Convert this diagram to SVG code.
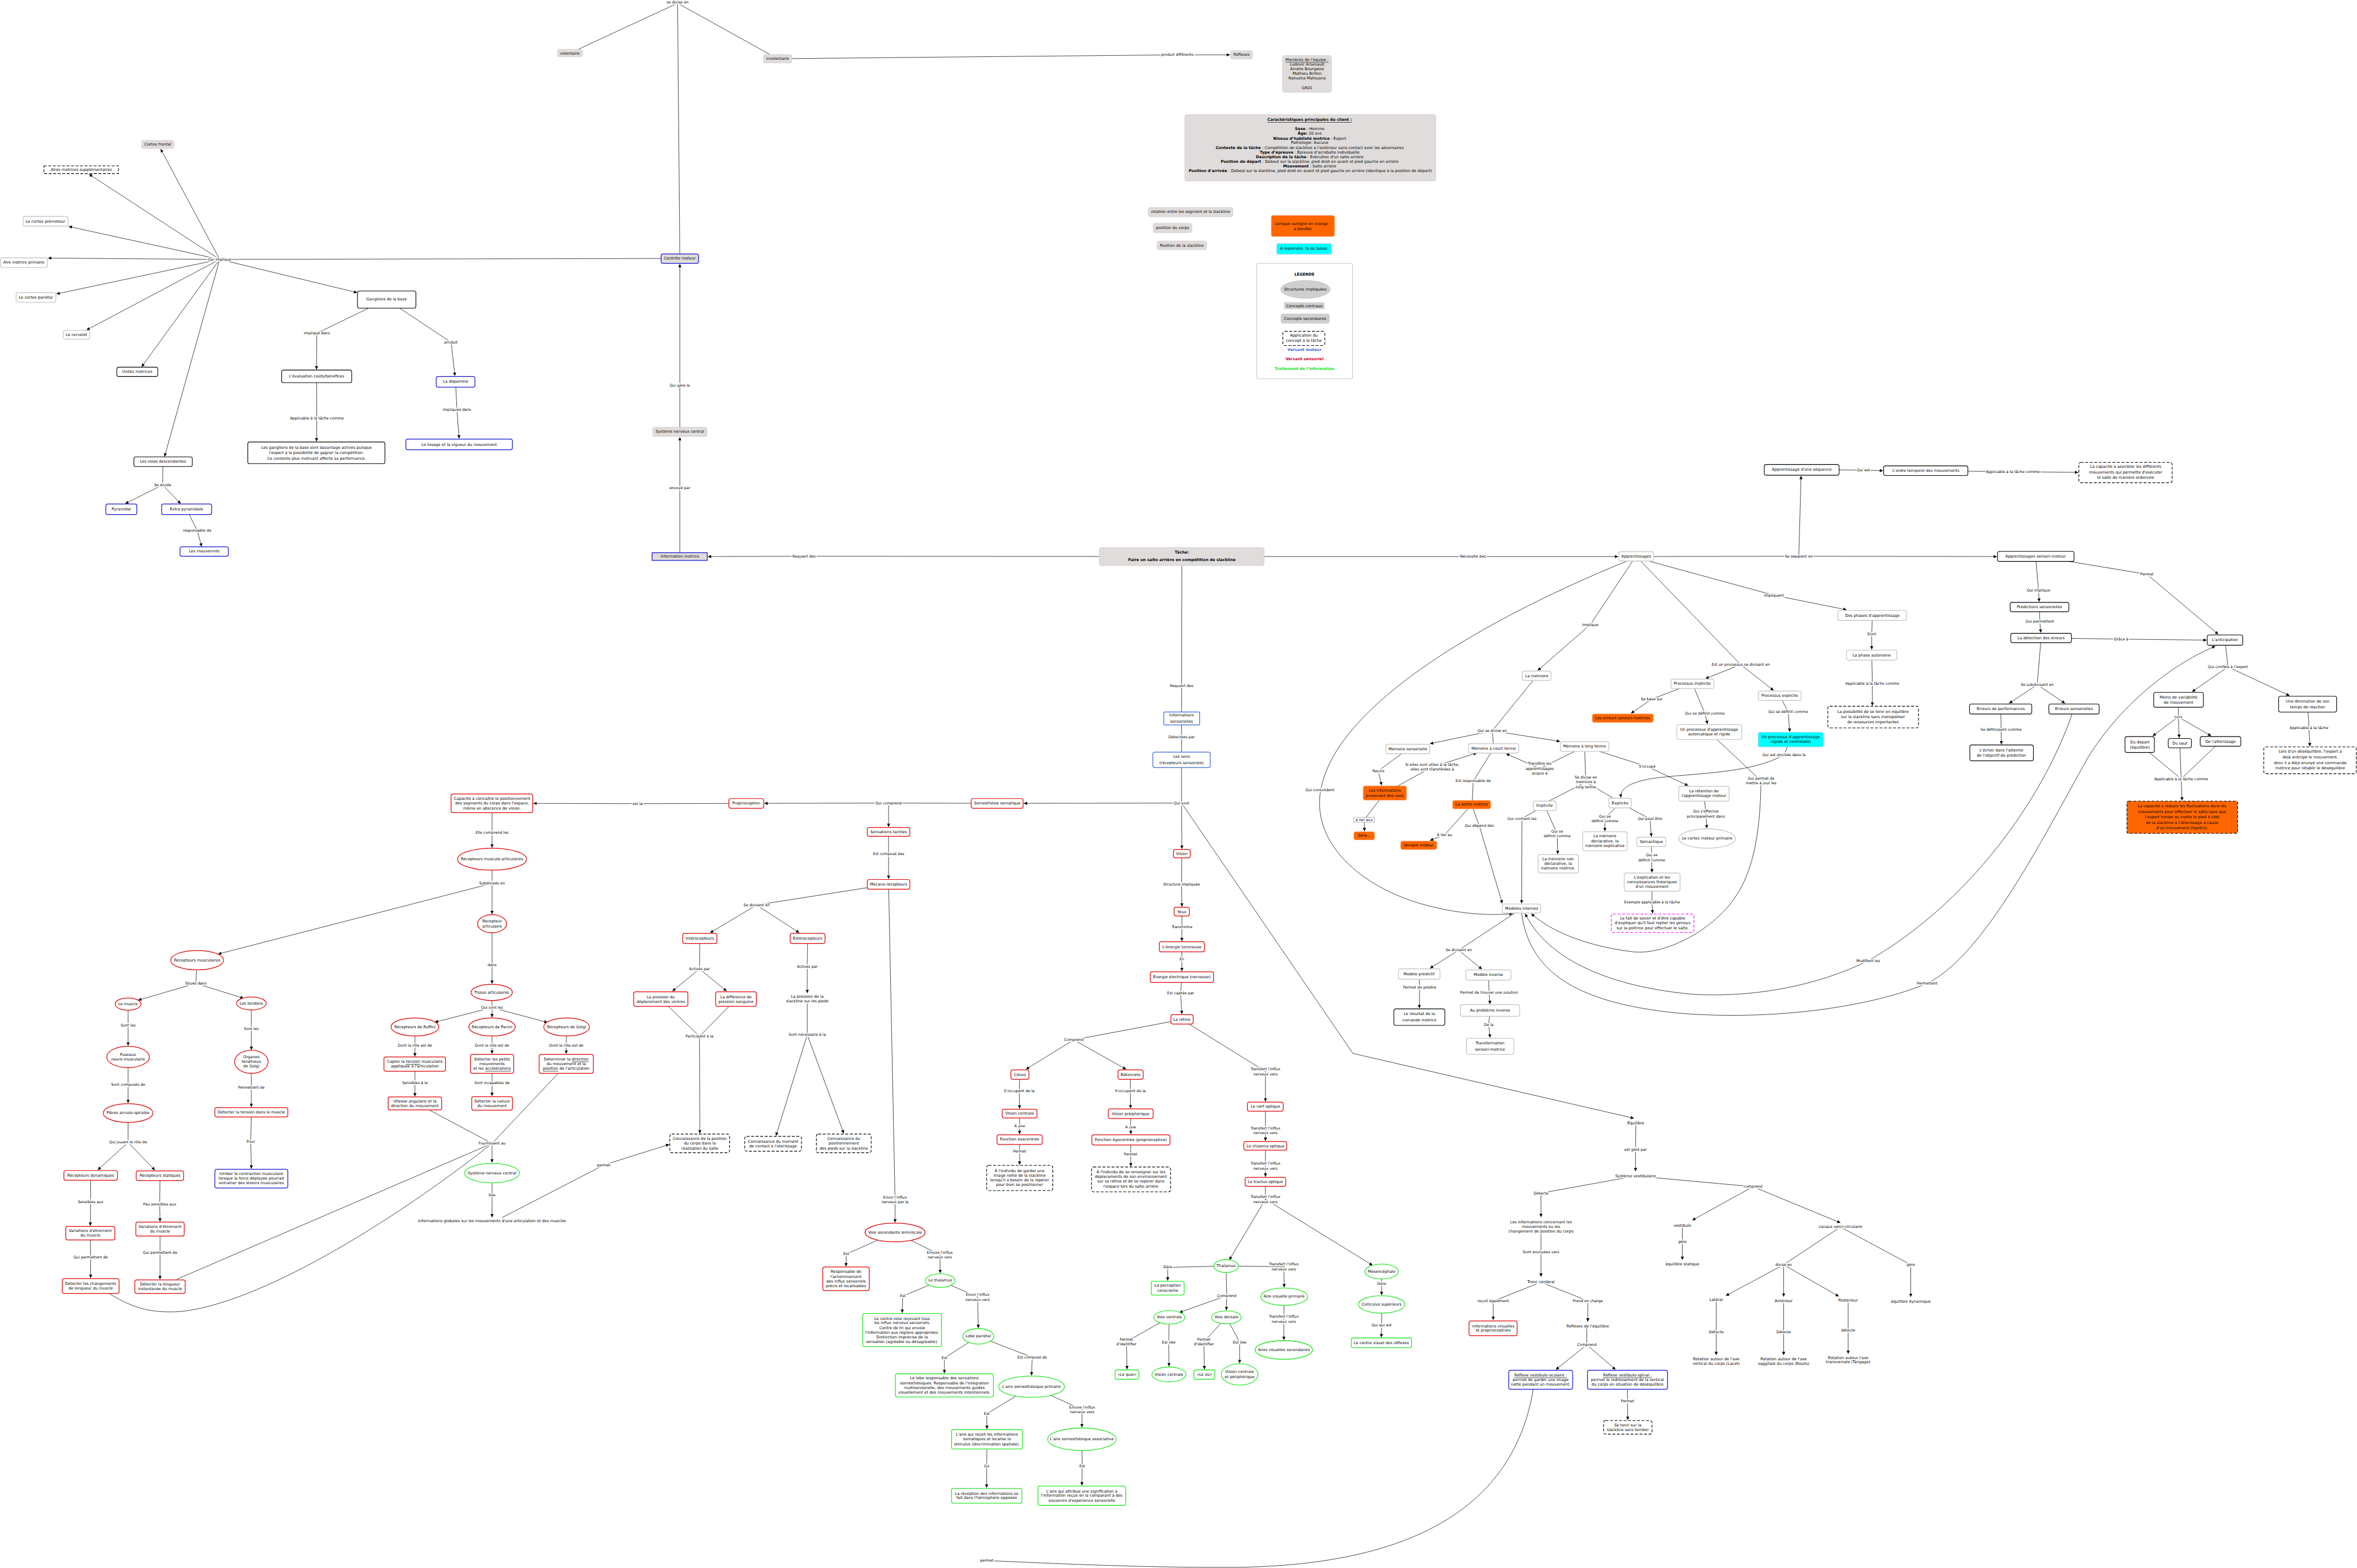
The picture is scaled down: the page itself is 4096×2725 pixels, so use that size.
<svg xmlns="http://www.w3.org/2000/svg" width="4096" height="2725" viewBox="0 0 4096 2725">
<defs>
<marker id="ah" viewBox="0 0 10 10" refX="10" refY="5" markerWidth="12" markerHeight="10" markerUnits="userSpaceOnUse" orient="auto"><path d="M0,0 L10,5 L0,10 z" fill="#000"/></marker>
<style>
text{font-family:"DejaVu Sans",Verdana,"Liberation Sans",sans-serif;text-anchor:middle;dominant-baseline:central;fill:#000;font-size:12px}
tspan{dominant-baseline:central}
.l{font-size:11.5px;stroke:#fff;stroke-width:6px;paint-order:stroke;stroke-linejoin:round}
.p{stroke:#fff;stroke-width:6px;paint-order:stroke;stroke-linejoin:round}
.g{fill:#dfdcdb;stroke:#d3d0cf;stroke-width:1.5}
.w{fill:#fff;stroke:#c9c9c9;stroke-width:2.5}
.k{fill:#fff;stroke:#000;stroke-width:2}
.b{fill:#fff;stroke:#1212d0;stroke-width:2.2}
.bl{fill:#fff;stroke:#3d66dd;stroke-width:2.2}
.r{fill:#fff;stroke:#e00000;stroke-width:2.2}
.v{fill:#fff;stroke:#2ee82e;stroke-width:2.4}
.d{fill:#fff;stroke:#000;stroke-width:2;stroke-dasharray:9 5}
.o{fill:#ff6600;stroke:#ff9966;stroke-width:1.5}
.od{fill:#ff6600;stroke:#000;stroke-width:2;stroke-dasharray:9 5}
.c{fill:#00ffff;stroke:#9ad7e6;stroke-width:2}
.m{fill:#fff;stroke:#ff00ff;stroke-width:2;stroke-dasharray:9 5}
.e{fill:none;stroke:#000;stroke-width:1.3}
.a{marker-end:url(#ah)}
.bd{font-weight:bold}
</style>
</defs>
<rect x="0" y="0" width="4096" height="2725" fill="#fff"/>
<g transform="scale(0.56071)">
<g id="connectors">
<path class="e" d="M2107,801 L2100,10 M2100,10 L1766,165 M2100,10 L2410,182 M2410,182 L3649,170"/>
<path class="e a" d="M3649,170 L3812,170"/>
<path class="e" d="M2107,1725 L2107,1513"/><path class="e a" d="M2107,1513 L2107,1355"/>
<path class="e" d="M2107,1338 L2107,1195"/><path class="e a" d="M2107,1195 L2107,818"/>
<path class="e" d="M3663,1725 L2492,1724"/><path class="e a" d="M2492,1724 L2194,1725"/>
<path class="e" d="M2107,801 L681,804"/>
<path class="e a" d="M681,804 L498,462"/>
<path class="e a" d="M681,804 L276,540"/>
<path class="e a" d="M681,804 L213,702"/>
<path class="e a" d="M681,804 L149,800"/>
<path class="e a" d="M681,804 L175,911"/>
<path class="e a" d="M681,804 L268,1023"/>
<path class="e a" d="M681,804 L439,1137"/>
<path class="e a" d="M681,804 L510,1415"/>
<path class="e a" d="M681,804 L1107,907"/>
<path class="e" d="M1198,928 L982,1033"/><path class="e a" d="M982,1033 L981,1145"/>
<path class="e" d="M1198,928 L1398,1061"/><path class="e a" d="M1398,1061 L1410,1165"/>
<path class="e" d="M981,1167 L982,1297"/><path class="e a" d="M982,1297 L981,1368"/>
<path class="e" d="M1412,1183 L1416,1269"/><path class="e a" d="M1416,1269 L1423,1359"/>
<path class="e" d="M505,1431 L504,1503"/><path class="e a" d="M504,1503 L388,1561"/><path class="e a" d="M504,1503 L560,1561"/>
<path class="e" d="M578,1578 L611,1644"/><path class="e a" d="M611,1644 L625,1694"/>
<path class="e" d="M3663,1725 L3662,2207 M3662,2227 L3662,2331 M3662,2355 L3662,2489"/>
<path class="e a" d="M3662,2489 L3173,2490"/>
<path class="e a" d="M3662,2489 L3663,2631"/>
<path class="e a" d="M3662,2489 L4193,3265 L5064,3466"/>
<path class="e" d="M3091,2490 L2754,2489"/><path class="e a" d="M2754,2489 L2369,2490"/><path class="e a" d="M2754,2489 L2754,2563"/>
<path class="e" d="M2313,2490 L1976,2491"/><path class="e a" d="M1976,2491 L1653,2490"/>
<path class="e" d="M1525,2490 L1525,2581"/><path class="e a" d="M1525,2581 L1525,2627"/>
<path class="e" d="M1525,2663 L1525,2738"/><path class="e a" d="M1525,2738 L676,2957"/><path class="e a" d="M1525,2738 L1525,2833"/>
<path class="e" d="M2754,2579 L2754,2646"/><path class="e a" d="M2754,2646 L2754,2724"/>
<path class="e" d="M2754,2741 L2345,2805"/><path class="e a" d="M2345,2805 L2201,2891"/><path class="e a" d="M2345,2805 L2477,2891"/>
<path class="e" d="M2754,2741 L2774,3718"/><path class="e a" d="M2774,3718 L2774,3789"/>
<path class="e" d="M2169,2909 L2168,3003"/><path class="e a" d="M2168,3003 L2084,3072"/><path class="e a" d="M2168,3003 L2252,3072"/>
<path class="e" d="M2048,3097 L2168,3212 M2281,3097 L2168,3212"/><path class="e a" d="M2168,3212 L2169,3513"/>
<path class="e" d="M2503,2909 L2502,2996"/><path class="e a" d="M2502,2996 L2502,3078"/>
<path class="e" d="M2502,3100 L2502,3207"/><path class="e a" d="M2502,3207 L2405,3520"/><path class="e a" d="M2502,3207 L2615,3513"/>
<path class="e" d="M3663,2646 L3662,2741"/><path class="e a" d="M3662,2741 L3663,2810"/>
<path class="e" d="M3663,2826 L3663,2874"/><path class="e a" d="M3663,2874 L3663,2917"/>
<path class="e" d="M3663,2935 L3663,2973"/><path class="e a" d="M3663,2973 L3663,3010"/>
<path class="e" d="M3663,3029 L3659,3079"/><path class="e a" d="M3659,3079 L3663,3143"/>
<path class="e" d="M3663,3160 L3328,3223"/><path class="e a" d="M3328,3223 L3180,3314"/><path class="e a" d="M3328,3223 L3490,3314"/>
<path class="e" d="M3663,3160 L3922,3321"/><path class="e a" d="M3922,3321 L3922,3414"/>
<path class="e" d="M3161,3331 L3159,3382"/><path class="e a" d="M3159,3382 L3160,3436"/>
<path class="e" d="M3504,3331 L3503,3382"/><path class="e a" d="M3503,3382 L3504,3435"/>
<path class="e" d="M3160,3451 L3160,3490"/><path class="e a" d="M3160,3490 L3160,3515"/>
<path class="e" d="M3504,3452 L3504,3493"/><path class="e a" d="M3504,3493 L3505,3515"/>
<path class="e" d="M3160,3532 L3160,3569"/><path class="e a" d="M3160,3569 L3160,3610"/>
<path class="e" d="M3505,3533 L3504,3578"/><path class="e a" d="M3504,3578 L3505,3615"/>
<path class="e" d="M3922,3430 L3922,3504"/><path class="e a" d="M3922,3504 L3922,3536"/>
<path class="e" d="M3922,3552 L3922,3614"/><path class="e a" d="M3922,3614 L3922,3647"/>
<path class="e" d="M3922,3663 L3922,3717"/><path class="e a" d="M3922,3717 L3810,3905"/><path class="e a" d="M3922,3717 L4254,3922"/>
<path class="e" d="M3800,3924 L3979,3926"/><path class="e a" d="M3979,3926 L3980,3990"/>
<path class="e" d="M3800,3924 L3619,3928"/><path class="e a" d="M3619,3928 L3619,3969"/>
<path class="e" d="M3800,3924 L3802,4016"/><path class="e a" d="M3802,4016 L3801,4061"/><path class="e a" d="M3802,4016 L3655,4068"/>
<path class="e" d="M3624,4083 L3491,4159"/><path class="e a" d="M3491,4159 L3493,4244"/>
<path class="e" d="M3624,4083 L3622,4160"/><path class="e a" d="M3622,4160 L3623,4235"/>
<path class="e" d="M3801,4083 L3731,4159"/><path class="e a" d="M3731,4159 L3733,4244"/>
<path class="e" d="M3801,4083 L3842,4160"/><path class="e a" d="M3842,4160 L3842,4225"/>
<path class="e" d="M3980,4019 L3979,4088"/><path class="e a" d="M3979,4088 L3979,4153"/>
<path class="e" d="M4282,3941 L4282,3979"/><path class="e a" d="M4282,3979 L4282,4014"/>
<path class="e" d="M4282,4043 L4282,4108"/><path class="e a" d="M4282,4108 L4281,4145"/>
<path class="e" d="M2774,3820 L2623,3887"/><path class="e a" d="M2623,3887 L2622,3925"/>
<path class="e" d="M2774,3820 L2913,3889"/><path class="e a" d="M2913,3889 L2914,3946"/>
<path class="e" d="M2914,3969 L2798,4017"/><path class="e a" d="M2798,4017 L2796,4069"/>
<path class="e" d="M2914,3969 L3030,4020"/><path class="e a" d="M3030,4020 L3032,4116"/>
<path class="e" d="M3032,4142 L2927,4209"/><path class="e a" d="M2927,4209 L2927,4256"/>
<path class="e" d="M3032,4142 L3199,4207"/><path class="e a" d="M3199,4207 L3197,4263"/>
<path class="e" d="M3197,4298 L3058,4382"/><path class="e a" d="M3058,4382 L3059,4429"/>
<path class="e" d="M3197,4298 L3354,4369"/><path class="e a" d="M3354,4369 L3353,4424"/>
<path class="e" d="M3059,4461 L3058,4545"/><path class="e a" d="M3058,4545 L3058,4611"/>
<path class="e" d="M3353,4461 L3354,4544"/><path class="e a" d="M3354,4544 L3353,4604"/>
<path class="e" d="M4752,4306 C4700,4620 4450,4858 3800,4858 C3500,4858 3250,4845 3060,4837"/>
<path class="e" d="M5070,3482 L5069,3563"/><path class="e a" d="M5069,3563 L5069,3630"/>
<path class="e" d="M5069,3645 L4776,3698"/><path class="e a" d="M4776,3698 L4776,3772"/>
<path class="e" d="M4776,3802 L4776,3881"/><path class="e a" d="M4776,3881 L4776,3957"/>
<path class="e" d="M4776,3974 L4628,4033"/><path class="e a" d="M4628,4033 L4628,4091"/>
<path class="e" d="M4776,3974 L4921,4032"/><path class="e a" d="M4921,4032 L4921,4096"/>
<path class="e" d="M4918,4110 L4918,4168"/><path class="e a" d="M4918,4168 L4822,4245"/><path class="e a" d="M4918,4168 L5007,4245"/>
<path class="e" d="M5044,4277 L5044,4343"/><path class="e a" d="M5044,4343 L5045,4401"/>
<path class="e" d="M5069,3645 L5433,3678"/><path class="e a" d="M5433,3678 L5245,3782"/><path class="e a" d="M5433,3678 L5704,3790"/>
<path class="e" d="M5214,3799 L5214,3849"/><path class="e a" d="M5214,3849 L5214,3905"/>
<path class="e" d="M5704,3803 L5528,3920"/><path class="e a" d="M5528,3920 L5349,4016"/><path class="e a" d="M5528,3920 L5528,4019"/><path class="e a" d="M5528,3920 L5699,4018"/>
<path class="e" d="M5704,3803 L5922,3920"/><path class="e a" d="M5922,3920 L5922,4020"/>
<path class="e" d="M5319,4029 L5319,4128"/><path class="e a" d="M5319,4128 L5319,4200"/>
<path class="e" d="M5528,4033 L5528,4128"/><path class="e a" d="M5528,4128 L5528,4200"/>
<path class="e" d="M5728,4031 L5728,4124"/><path class="e a" d="M5728,4124 L5728,4196"/>
<path class="e" d="M1525,2863 L1525,2991"/><path class="e a" d="M1525,2991 L1525,3049"/>
<path class="e" d="M611,2976 L607,3048"/><path class="e a" d="M607,3048 L428,3100"/><path class="e a" d="M607,3048 L755,3094"/>
<path class="e" d="M397,3112 L397,3178"/><path class="e a" d="M397,3178 L397,3241"/>
<path class="e" d="M779,3110 L779,3189"/><path class="e a" d="M779,3189 L779,3254"/>
<path class="e" d="M397,3276 L397,3362"/><path class="e a" d="M397,3362 L397,3419"/>
<path class="e" d="M779,3291 L779,3371"/><path class="e a" d="M779,3371 L779,3431"/>
<path class="e" d="M397,3450 L397,3541"/><path class="e a" d="M397,3541 L303,3626"/><path class="e a" d="M397,3541 L480,3627"/>
<path class="e" d="M779,3448 L777,3538"/><path class="e a" d="M777,3538 L779,3622"/>
<path class="e" d="M281,3643 L281,3726"/><path class="e a" d="M281,3726 L280,3799"/>
<path class="e" d="M496,3644 L495,3733"/><path class="e a" d="M495,3733 L496,3786"/>
<path class="e" d="M280,3822 L281,3896"/><path class="e a" d="M281,3896 L281,3961"/>
<path class="e" d="M496,3810 L496,3883"/><path class="e a" d="M496,3883 L496,3965"/>
<path class="e" d="M1524,3076 L1525,3123"/><path class="e a" d="M1525,3123 L1348,3168"/><path class="e a" d="M1525,3123 L1525,3153"/><path class="e a" d="M1525,3123 L1697,3169"/>
<path class="e" d="M1286,3183 L1286,3241"/><path class="e a" d="M1286,3241 L1286,3274"/>
<path class="e" d="M1525,3183 L1525,3241"/><path class="e a" d="M1525,3241 L1525,3266"/>
<path class="e" d="M1756,3183 L1755,3241"/><path class="e a" d="M1755,3241 L1755,3266"/>
<path class="e" d="M1286,3298 L1286,3357"/><path class="e a" d="M1286,3357 L1286,3398"/>
<path class="e" d="M1525,3298 L1525,3356"/><path class="e a" d="M1525,3356 L1525,3397"/>
<path class="e" d="M1330,3440 L1525,3544 M1730,3327 L1525,3544 M548,3965 L1525,3544"/>
<path class="e" d="M338,4009 C420,4060 480,4070 560,4065 C800,4040 1200,3800 1525,3544"/>
<path class="e a" d="M1525,3544 L1525,3603"/>
<path class="e" d="M1525,3636 L1525,3705"/><path class="e a" d="M1525,3705 L1525,3773"/>
<path class="e" d="M1556,3774 L1871,3611"/><path class="e a" d="M1871,3611 L2074,3547"/>
<path class="e" d="M3918,1725 L4565,1725"/><path class="e a" d="M4565,1725 L5015,1725"/>
<path class="e" d="M5071,1725 L5575,1724"/><path class="e a" d="M5575,1724 L6189,1725"/><path class="e a" d="M5575,1724 L5582,1475"/>
<path class="e" d="M5584,1456 L5775,1457"/><path class="e a" d="M5775,1457 L5836,1459"/>
<path class="e" d="M5969,1459 L6238,1462"/><path class="e a" d="M6238,1462 L6441,1464"/>
<path class="e" d="M5060,1739 L4929,1936"/><path class="e a" d="M4929,1936 L4766,2078"/>
<path class="e" d="M5085,1739 L5395,2060"/><path class="e a" d="M5395,2060 L5286,2103"/><path class="e a" d="M5395,2060 L5497,2140"/>
<path class="e" d="M5110,1739 L5498,1845"/><path class="e a" d="M5498,1845 L5723,1890"/>
<path class="e" d="M5803,1908 L5801,1965"/><path class="e a" d="M5801,1965 L5801,2013"/>
<path class="e" d="M5801,2031 L5803,2119"/><path class="e a" d="M5803,2119 L5803,2187"/>
<path class="e a" d="M5040,1740 C4600,1920 4150,2180 4095,2440 C4060,2600 4200,2740 4400,2800 C4520,2835 4620,2838 4688,2832"/>
<path class="e" d="M5245,2119 L5119,2167"/><path class="e a" d="M5119,2167 L5055,2211"/>
<path class="e" d="M5245,2119 L5284,2211"/><path class="e a" d="M5284,2211 L5292,2244"/>
<path class="e" d="M5516,2157 L5542,2206"/><path class="e a" d="M5542,2206 L5547,2268"/>
<path class="e" d="M5550,2292 L5529,2340"/><path class="e a" d="M5529,2340 C5420,2400 5250,2395 5120,2413 C5050,2425 5020,2445 5024,2472"/>
<path class="e" d="M5297,2269 L5458,2420"/><path class="e a" d="M5458,2420 C5455,2600 5430,2720 5360,2805 C5280,2900 5150,2960 5060,2950 C4900,2930 4800,2880 4746,2832"/>
<path class="e" d="M4763,2095 L4625,2265 M4625,2265 L4628,2305"/><path class="e a" d="M4625,2265 L4432,2305"/><path class="e a" d="M4625,2265 L4835,2298"/>
<path class="e" d="M4363,2322 L4272,2389"/><path class="e a" d="M4272,2389 L4282,2434"/>
<path class="e" d="M4292,2458 L4439,2377"/><path class="e a" d="M4439,2377 L4577,2334"/>
<path class="e" d="M4911,2314 L4772,2382"/><path class="e a" d="M4772,2382 L4668,2336"/>
<path class="e" d="M4629,2320 L4566,2421 M4566,2421 L4563,2481"/>
<path class="e" d="M4292,2458 L4228,2541"/><path class="e a" d="M4228,2541 L4229,2576"/>
<path class="e" d="M4561,2494 L4477,2588"/><path class="e a" d="M4477,2588 L4432,2605"/>
<path class="e" d="M4561,2494 L4585,2560"/><path class="e a" d="M4585,2560 L4656,2800"/>
<path class="e" d="M4911,2314 L4915,2424 M4915,2424 L4800,2483 M4915,2424 L5000,2474"/>
<path class="e" d="M4911,2314 L5105,2376"/><path class="e a" d="M5105,2376 L5232,2435"/>
<path class="e" d="M5281,2460 L5287,2522"/><path class="e a" d="M5287,2522 L5290,2567"/>
<path class="e" d="M4787,2497 L4717,2537"/><path class="e a" d="M4717,2537 L4716,2800"/>
<path class="e" d="M4787,2497 L4826,2584"/><path class="e a" d="M4826,2584 L4828,2647"/>
<path class="e" d="M5021,2489 L4974,2537"/><path class="e a" d="M4974,2537 L4974,2576"/>
<path class="e" d="M5021,2489 L5114,2538"/><path class="e a" d="M5114,2538 L5118,2593"/>
<path class="e" d="M5118,2609 L5119,2658"/><path class="e a" d="M5119,2658 L5120,2704"/>
<path class="e" d="M5120,2734 L5120,2797"/><path class="e a" d="M5120,2797 L5122,2831"/>
<path class="e" d="M4716,2816 L4521,2945"/><path class="e a" d="M4521,2945 L4432,3001"/><path class="e a" d="M4521,2945 L4593,3004"/>
<path class="e" d="M4398,3019 L4400,3060"/><path class="e a" d="M4400,3060 L4399,3125"/>
<path class="e" d="M4613,3022 L4615,3076"/><path class="e a" d="M4615,3076 L4618,3112"/>
<path class="e" d="M4618,3132 L4614,3176"/><path class="e a" d="M4614,3176 L4618,3216"/>
<path class="e a" d="M6422,2213 C6330,2480 6100,2800 5790,2978 C5600,3070 5400,3090 5250,3082 C5000,3060 4800,2980 4727,2832"/>
<path class="e a" d="M4716,2830 C4740,3020 4900,3110 5200,3140 C5500,3165 5800,3120 5973,3048 C6150,2960 6330,2600 6470,2350 C6580,2170 6750,2050 6866,2003"/>
<path class="e" d="M6309,1725 L6318,1830"/><path class="e a" d="M6318,1830 L6320,1865"/>
<path class="e" d="M6321,1881 L6322,1927"/><path class="e a" d="M6322,1927 L6325,1961"/>
<path class="e" d="M6326,1977 L6574,1981"/><path class="e a" d="M6574,1981 L6839,1984"/>
<path class="e" d="M6400,1738 L6654,1780"/><path class="e a" d="M6654,1780 L6875,1966"/>
<path class="e" d="M6326,1977 L6314,2122"/><path class="e a" d="M6314,2122 L6227,2180"/><path class="e a" d="M6314,2122 L6400,2180"/>
<path class="e" d="M6201,2198 L6202,2261"/><path class="e a" d="M6202,2261 L6203,2307"/>
<path class="e" d="M6896,1984 L6905,2067"/><path class="e a" d="M6905,2067 L6794,2144"/><path class="e a" d="M6905,2067 L7096,2156"/>
<path class="e" d="M6752,2169 L6751,2222"/><path class="e a" d="M6751,2222 L6672,2281"/><path class="e a" d="M6751,2222 L6754,2287"/><path class="e a" d="M6751,2222 L6853,2281"/>
<path class="e" d="M6632,2308 L6760,2414 M6756,2304 L6760,2414 M6882,2298 L6760,2414"/><path class="e a" d="M6760,2414 L6763,2481"/>
<path class="e" d="M7152,2183 L7156,2256"/><path class="e a" d="M7156,2256 L7159,2313"/>
<g id="link-labels">
<text class="l" x="2100" y="8">se divise en</text>
<text class="l" x="3649" y="170">produit différents</text>
<text class="l" x="2107" y="1195">Qui gère le</text>
<text class="l" x="2107" y="1513">envoyé par</text>
<text class="l" x="2492" y="1724">Requiert des</text>
<text class="l" x="681" y="804">Qui implique</text>
<text class="l" x="982" y="1033">impliqué dans</text>
<text class="l" x="1398" y="1061">produit</text>
<text class="l" x="982" y="1297">Applicable à la tâche comme</text>
<text class="l" x="1416" y="1269">impliquée dans</text>
<text class="l" x="504" y="1503">Se divide</text>
<text class="l" x="611" y="1644">responsable de</text>
<text class="l" x="3662" y="2126">Requiert des</text>
<text class="l" x="3662" y="2285">Détectées par</text>
<text class="l" x="3662" y="2489">Qui sont</text>
<text class="l" x="2754" y="2489">Qui comprend</text>
<text class="l" x="1976" y="2491">est la</text>
<text class="l" x="1525" y="2581">Elle comprend les</text>
<text class="l" x="1525" y="2738">Subdivisés en</text>
<text class="l" x="2754" y="2646">Est composé des</text>
<text class="l" x="2345" y="2805">Se divisent en</text>
<text class="l" x="2774" y="3718"><tspan x="2774" y="3711">Envoi l'influx</tspan><tspan x="2774" y="3726">nerveux par la</tspan></text>
<text class="l" x="2168" y="3003">Activés par</text>
<text class="l" x="2502" y="2996">Activés par</text>
<text class="l" x="2168" y="3212">Participent à la</text>
<text class="l" x="2502" y="3207">Sont nécessaire à la</text>
<text class="l" x="3662" y="2741">Structure impliquée</text>
<text class="l" x="3663" y="2874">Transforme</text>
<text class="l" x="3663" y="2973">En</text>
<text class="l" x="3659" y="3079">Est captée par</text>
<text class="l" x="3328" y="3223">Comprend</text>
<text class="l"><tspan x="3922" y="3314">Transfert l'influx</tspan><tspan x="3922" y="3329">nerveux vers</tspan></text>
<text class="l" x="3159" y="3382">S'occupent de la</text>
<text class="l" x="3503" y="3382">S'occupent de la</text>
<text class="l" x="3160" y="3490">A une</text>
<text class="l" x="3504" y="3493">A une</text>
<text class="l" x="3160" y="3569">Permet</text>
<text class="l" x="3504" y="3578">Permet</text>
<text class="l"><tspan x="3922" y="3497">Transfert l'influx</tspan><tspan x="3922" y="3512">nerveux vers</tspan></text>
<text class="l"><tspan x="3922" y="3607">Transfert l'influx</tspan><tspan x="3922" y="3622">nerveux vers</tspan></text>
<text class="l"><tspan x="3922" y="3710">Transfert l'influx</tspan><tspan x="3922" y="3725">nerveux vers</tspan></text>
<text class="l"><tspan x="3979" y="3919">Transfert l'influx</tspan><tspan x="3979" y="3934">nerveux vers</tspan></text>
<text class="l" x="3619" y="3928">Gère</text>
<text class="l" x="3802" y="4016">Comprend</text>
<text class="l"><tspan x="3491" y="4152">Permet</tspan><tspan x="3491" y="4167">d'identifier</tspan></text>
<text class="l" x="3622" y="4160">Est liée</text>
<text class="l"><tspan x="3731" y="4152">Permet</tspan><tspan x="3731" y="4167">d'identifier</tspan></text>
<text class="l" x="3842" y="4160">Est liée</text>
<text class="l"><tspan x="3979" y="4081">Transfert l'influx</tspan><tspan x="3979" y="4096">nerveux vers</tspan></text>
<text class="l" x="4282" y="3979">Gère</text>
<text class="l" x="4282" y="4108">Qui qui est</text>
<text class="l" x="2623" y="3887">Est</text>
<text class="l"><tspan x="2913" y="3882">Envoie l'influx</tspan><tspan x="2913" y="3897">nerveux vers</tspan></text>
<text class="l" x="2798" y="4017">Est</text>
<text class="l"><tspan x="3030" y="4013">Envoi l'influx</tspan><tspan x="3030" y="4028">nerveux vers</tspan></text>
<text class="l" x="2927" y="4209">Est</text>
<text class="l" x="3199" y="4207">Est composé de</text>
<text class="l" x="3058" y="4382">Est</text>
<text class="l"><tspan x="3354" y="4362">Envoie l'influx</tspan><tspan x="3354" y="4377">nerveux vers</tspan></text>
<text class="l" x="3058" y="4545">Où</text>
<text class="l" x="3354" y="4544">Est</text>
<text class="l" x="3058" y="4837">permet</text>
<text class="l" x="5069" y="3563">est géré par</text>
<text class="l" x="4776" y="3698">Détecte</text>
<text class="l" x="4776" y="3881">Sont envoyées vers</text>
<text class="l" x="4628" y="4033">reçoit également</text>
<text class="l" x="4921" y="4032">Prend en charge</text>
<text class="l" x="4918" y="4168">Comprend</text>
<text class="l" x="5044" y="4343">Permet</text>
<text class="l" x="5433" y="3678">comprend</text>
<text class="l" x="5214" y="3849">gère</text>
<text class="l" x="5528" y="3920">divisé en</text>
<text class="l" x="5922" y="3920">gère</text>
<text class="l" x="5319" y="4128">Détecte</text>
<text class="l" x="5528" y="4128">Détecte</text>
<text class="l" x="5728" y="4124">détecte</text>
<text class="l" x="1525" y="2991">dans</text>
<text class="l" x="607" y="3048">Situés dans</text>
<text class="l" x="397" y="3178">Sont les</text>
<text class="l" x="779" y="3189">Sont les</text>
<text class="l" x="397" y="3362">Sont composés de</text>
<text class="l" x="779" y="3371">Permettent de</text>
<text class="l" x="397" y="3541">Qui jouent le rôle de</text>
<text class="l" x="777" y="3538">Pour</text>
<text class="l" x="281" y="3726">Sensibles aux</text>
<text class="l" x="495" y="3733">Peu sensibles aux</text>
<text class="l" x="281" y="3896">Qui permettent de</text>
<text class="l" x="496" y="3883">Qui permettent de</text>
<text class="l" x="1525" y="3123">Qui sont les</text>
<text class="l" x="1286" y="3241">Dont le rôle est de</text>
<text class="l" x="1525" y="3241">Dont le rôle est de</text>
<text class="l" x="1755" y="3241">Dont le rôle est de</text>
<text class="l" x="1286" y="3357">Sensibles à la</text>
<text class="l" x="1525" y="3356">Sont incapables de</text>
<text class="l" x="1525" y="3544">Fournissent au</text>
<text class="l" x="1525" y="3705">Des</text>
<text class="l" x="1871" y="3611">permet</text>
<text class="l" x="4565" y="1725">Nécessite des</text>
<text class="l" x="5575" y="1724">Se séparent en</text>
<text class="l" x="5775" y="1457">Qui est</text>
<text class="l" x="6238" y="1462">Applicable à la tâche comme</text>
<text class="l" x="4929" y="1936">Implique</text>
<text class="l" x="5395" y="2060">Est un processus se divisant en</text>
<text class="l" x="5498" y="1845">Impliquent</text>
<text class="l" x="5801" y="1965">Dont</text>
<text class="l" x="5803" y="2119">Applicable à la tâche comme</text>
<text class="l" x="4091" y="2448">Qui consolident</text>
<text class="l" x="5119" y="2167">Se base sur</text>
<text class="l" x="5284" y="2211">Qui se définit comme</text>
<text class="l" x="5542" y="2206">Qui se définit comme</text>
<text class="l" x="5529" y="2340">Qui est stockée dans la</text>
<text class="l"><tspan x="5458" y="2413">Qui permet de</tspan><tspan x="5458" y="2428">mettre à jour les</tspan></text>
<text class="l" x="4625" y="2265">Qui se divise en</text>
<text class="l" x="4272" y="2389">Reçois</text>
<text class="l"><tspan x="4439" y="2370">Si elles sont utiles à la tâche,</tspan><tspan x="4439" y="2385">elles sont transférées à</tspan></text>
<text class="l"><tspan x="4772" y="2367">Transfère les</tspan><tspan x="4772" y="2382">apprentissages</tspan><tspan x="4772" y="2397">acquis à</tspan></text>
<text class="l" x="4566" y="2421">Est responsable de</text>
<rect x="4196" y="2533" width="64" height="16" fill="#fff" stroke="#000" stroke-width="1" stroke-dasharray="3 2"/>
<text class="l" x="4228" y="2541">à lier aux</text>
<text class="l" x="4477" y="2588">À lier au</text>
<text class="l" x="4585" y="2560">Qui dépend des</text>
<text class="l"><tspan x="4915" y="2409">Se divise en</tspan><tspan x="4915" y="2424">mémoire à</tspan><tspan x="4915" y="2439">long terme</tspan></text>
<text class="l" x="5105" y="2376">S'occupe</text>
<text class="l"><tspan x="5287" y="2515">Qui s'effectue</tspan><tspan x="5287" y="2530">principalement dans</tspan></text>
<text class="l" x="4717" y="2537">Qui contient les</text>
<text class="l"><tspan x="4826" y="2577">Qui se</tspan><tspan x="4826" y="2592">définit comme</tspan></text>
<text class="l"><tspan x="4974" y="2530">Qui se</tspan><tspan x="4974" y="2545">définit comme</tspan></text>
<text class="l" x="5114" y="2538">Qui peut être</text>
<text class="l"><tspan x="5119" y="2651">Qui se</tspan><tspan x="5119" y="2666">définit comme</tspan></text>
<text class="l" x="5120" y="2797">Exemple applicable à la tâche</text>
<text class="l" x="4521" y="2945">Se divisent en</text>
<text class="l" x="4400" y="3060">Permet de prédire</text>
<text class="l" x="4615" y="3076">Permet de trouver une solution</text>
<text class="l" x="4614" y="3176">De la</text>
<text class="l" x="5790" y="2978">Modifient les</text>
<text class="l" x="5973" y="3048">Permettent</text>
<text class="l" x="6318" y="1830">Qui implique</text>
<text class="l" x="6322" y="1927">Qui permettent</text>
<text class="l" x="6574" y="1981">Grâce à</text>
<text class="l" x="6654" y="1780">Permet</text>
<text class="l" x="6314" y="2122">Se subdivisant en</text>
<text class="l" x="6202" y="2261">Se définissent comme</text>
<text class="l" x="6905" y="2067">Qui confère à l'expert</text>
<text class="l" x="6751" y="2222">Lors</text>
<text class="l" x="6760" y="2414">Applicable à la tâche comme</text>
<text class="l" x="7156" y="2256">Applicable à la tâche</text>
</g>
</g>
<g id="nodes">
<g id="volontaire"><rect class="g" x="1728" y="153" width="77" height="23" rx="5"/><text x="1766" y="165">volontaire</text></g>
<g id="involontaire"><rect class="g" x="2366" y="169" width="88" height="26" rx="5"/><text x="2410" y="182">involontaire</text></g>
<g id="reflexes"><rect class="g" x="3814" y="157" width="68" height="26" rx="5"/><text x="3848" y="170">Réflexes</text></g>
<g id="membres"><rect class="g" x="3975" y="172" width="152" height="114" rx="6"/><text font-size="11.5"><tspan x="4051" y="185" text-decoration="underline">Membres de l'équipe :</tspan><tspan x="4051" y="199">Ludovic Arsenault</tspan><tspan x="4051" y="214">Amélie Bourgeois</tspan><tspan x="4051" y="229">Mathieu Brillon</tspan><tspan x="4051" y="243">Nahusha Mafouana</tspan><tspan x="4051" y="272">GR01</tspan></text></g>
<g id="caracteristiques"><rect class="g" x="3672" y="355" width="778" height="206" rx="6"/>
<text font-size="10.8"><tspan x="4061" y="371" font-weight="bold" text-decoration="underline">Caractéristiques principales du client :</tspan>
<tspan x="4061" y="399"><tspan font-weight="bold">Sexe</tspan> : Homme</tspan>
<tspan x="4061" y="413"><tspan font-weight="bold">Âge:</tspan> 20 ans</tspan>
<tspan x="4061" y="429"><tspan font-weight="bold">Niveau d’habileté motrice</tspan> : Expert</tspan>
<tspan x="4061" y="443">Pathologie: Aucune</tspan>
<tspan x="4061" y="458"><tspan font-weight="bold">Contexte de la tâche</tspan> : Compétition de slackline à l’extérieur sans contact avec les adversaires</tspan>
<tspan x="4061" y="472"><tspan font-weight="bold">Type d’épreuve</tspan> : Épreuve d’acrobatie individuelle</tspan>
<tspan x="4061" y="487"><tspan font-weight="bold">Description de la tâche</tspan> : Exécution d'un salto arrière</tspan>
<tspan x="4061" y="502"><tspan font-weight="bold">Position de départ</tspan> : Debout sur la slackline, pied droit en avant et pied gauche en arrière</tspan>
<tspan x="4061" y="516"><tspan font-weight="bold">Mouvement</tspan> : Salto arrière</tspan>
<tspan x="4061" y="530"><tspan font-weight="bold">Position d'arrivée</tspan> : Debout sur la slackline, pied droit en avant et pied gauche en arrière (identique à la position de départ)</tspan></text></g>
<g id="relation"><rect class="g" x="3559" y="643" width="262" height="29" rx="6"/><text x="3690" y="657" font-size="11.5">relation entre les segment et la slackline</text></g>
<g id="position-corps"><rect class="g" x="3574" y="692" width="120" height="29" rx="6"/><text x="3634" y="706" font-size="11.5">position du corps</text></g>
<g id="position-slackline"><rect class="g" x="3586" y="747" width="154" height="27" rx="6"/><text x="3663" y="761" font-size="11.5">Position de la slackline</text></g>
<g id="legende-orange"><rect class="o" x="3940" y="668" width="196" height="65" rx="6"/><text font-size="11.5"><tspan x="4038" y="694">Lorsque surligné en orange :</tspan><tspan x="4038" y="709">à bonifier</tspan></text></g>
<g id="legende-cyan"><rect class="c" x="3957" y="755" width="170" height="33" rx="6"/><text x="4042" y="771" font-size="11.5">À reprendre, là où laissé.</text></g>
<g id="legende"><rect x="3895" y="816" width="297" height="358" rx="6" fill="#fff" stroke="#c9c9c9" stroke-width="2"/>
<text x="4043" y="850" class="bd" font-size="11.5">LÉGENDE</text>
<ellipse cx="4046" cy="897" rx="77" ry="28" fill="#cfcfcf" stroke="#bdbdbd"/><text x="4046" y="897" font-size="11.5">Structures impliquées</text>
<rect x="3980" y="937" width="125" height="21" fill="#cfcfcf"/><text x="4043" y="948" font-size="11.5">Concepts centraux</text>
<rect x="3970" y="973" width="150" height="29" rx="6" fill="#cfcfcf" stroke="#bdbdbd"/><text x="4045" y="988" font-size="11.5">Concepts secondaires</text>
<rect class="d" x="3976" y="1027" width="130" height="44" rx="6"/><text font-size="11.5"><tspan x="4041" y="1040">Application du</tspan><tspan x="4041" y="1055">concept à la tâche</tspan></text>
<text x="4043" y="1084" class="bd" font-size="11.5" fill="#3d66dd" style="fill:#3d66dd">Versant moteur</text>
<text x="4043" y="1113" class="bd" font-size="11.5" style="fill:#cc0033">Versant sensoriel</text>
<text x="4043" y="1143" class="bd" font-size="11.5" style="fill:#22e022">Traitement de l'information</text></g>
<g id="cortex-frontal"><rect class="g" x="439" y="435" width="100" height="25" rx="5"/><text x="489" y="447">Cortex frontal</text></g>
<g id="aires-supp"><rect class="d" x="136" y="514" width="231" height="24"/><text x="252" y="526" font-size="12.5">Aires motrices supplémentaires</text></g>
<g id="premoteur"><rect class="w" x="72" y="671" width="139" height="30" rx="6"/><text x="141" y="686" font-size="11.5">Le cortex prémoteur</text></g>
<g id="aire-primaire"><rect class="w" x="1" y="799" width="146" height="30" rx="6"/><text x="74" y="814" font-size="11.5">Aire motrice primaire</text></g>
<g id="parietal"><rect class="w" x="50" y="907" width="123" height="30" rx="6"/><text x="111" y="922" font-size="11.5">Le cortex pariétal</text></g>
<g id="cervelet"><rect class="w" x="196" y="1024" width="82" height="27" rx="6"/><text x="237" y="1038" font-size="11.5">Le cervelet</text></g>
<g id="unites"><rect class="k" x="362" y="1138" width="127" height="29" rx="6"/><text x="425" y="1153" font-size="13.5">Unités motrices</text></g>
<g id="ganglions"><rect class="k" x="1108" y="902" width="181" height="53" rx="6"/><text x="1198" y="928" font-size="13">Ganglions de la base</text></g>
<g id="evaluation"><rect class="k" x="873" y="1147" width="217" height="39" rx="6"/><text x="981" y="1167" font-size="13">L'évaluation coûts/bénéfices</text></g>
<g id="ganglions-tache"><rect class="k" x="768" y="1370" width="425" height="67" rx="6"/><text font-size="13"><tspan x="981" y="1387">Les ganglions de la base sont davantage activés puisque</tspan><tspan x="981" y="1404">l'expert à la possibilité de gagner la compétition.</tspan><tspan x="981" y="1421">Ce contexte plus motivant affecte sa performance.</tspan></text></g>
<g id="dopamine"><rect class="b" x="1352" y="1167" width="120" height="33" rx="6"/><text x="1412" y="1183" font-size="15">La dopamine</text></g>
<g id="lissage"><rect class="b" x="1258" y="1361" width="330" height="33" rx="6"/><text x="1423" y="1378" font-size="14.5">Le lissage et la vigueur du mouvement</text></g>
<g id="voies"><rect class="k" x="415" y="1416" width="181" height="30" rx="6"/><text x="505" y="1431" font-size="13">Les voies descendantes</text></g>
<g id="pyramidal"><rect class="b" x="328" y="1562" width="96" height="33" rx="6"/><text x="376" y="1578" font-size="15">Pyramidal</text></g>
<g id="extra"><rect class="b" x="501" y="1562" width="155" height="33" rx="6"/><text x="578" y="1578" font-size="15">Extra pyramidale</text></g>
<g id="mouvemnts"><rect class="b" x="558" y="1695" width="150" height="29" rx="6"/><text x="633" y="1709" font-size="14.5">Les mouvemnts</text></g>
<g id="controle"><rect x="2049" y="787" width="116" height="29" rx="6" fill="#dfdcdb" stroke="#1212d0" stroke-width="2.2"/><text x="2107" y="801">Contrôle moteur</text></g>
<g id="snc"><rect class="g" x="2023" y="1324" width="168" height="29" rx="6"/><text x="2107" y="1338">Système nerveux central</text></g>
<g id="info-motrice"><rect x="2021" y="1713" width="171" height="24" fill="#dfdcdb" stroke="#1212d0" stroke-width="2.2"/><text x="2107" y="1725" font-size="14.5">Information motrice</text></g>
<g id="tache"><rect class="g" x="3407" y="1697" width="511" height="56" rx="7"/><text class="bd" font-size="17.5"><tspan x="3663" y="1713">Tâche:</tspan><tspan x="3663" y="1736">Faire un salto arrière en compétition de slackline</tspan></text></g>
<g id="info-sens"><rect class="bl" x="3607" y="2207" width="111" height="40" rx="2"/><text font-size="15.5"><tspan x="3662" y="2217">Informations</tspan><tspan x="3662" y="2237">sensorielles</tspan></text></g>
<g id="sens"><rect class="bl" x="3573" y="2331" width="178" height="48" rx="6"/><text font-size="13"><tspan x="3662" y="2346">Les sens</tspan><tspan x="3662" y="2364">(récepteurs sensoriels)</tspan></text></g>
<g id="somesthesie"><rect class="r" x="3010" y="2475" width="161" height="30" rx="6"/><text x="3091" y="2490">Somesthésie somatique</text></g>
<g id="proprioception"><rect class="r" x="2259" y="2475" width="108" height="30" rx="6"/><text x="2313" y="2490">Proprioception</text></g>
<g id="capacite"><rect class="r" x="1398" y="2461" width="253" height="58" rx="6"/><text font-size="11.5"><tspan x="1525" y="2475">Capacité à connaître le positionnement</tspan><tspan x="1525" y="2490">des segments du corps dans l'espace,</tspan><tspan x="1525" y="2505">même en abscence de vision.</tspan></text></g>
<g id="rma"><ellipse class="r" cx="1525" cy="2663" rx="107" ry="34"/><text x="1525" y="2663" font-size="11.5">Récepteurs musculo-articulaires</text></g>
<g id="tactiles"><rect class="r" x="2688" y="2565" width="132" height="27" rx="6"/><text x="2754" y="2579" font-size="11.5">Sensations tactiles</text></g>
<g id="mecano"><rect class="r" x="2688" y="2726" width="132" height="30" rx="6"/><text x="2754" y="2741" font-size="11.5">Mécano-récepteurs</text></g>
<g id="vision"><rect class="r" x="3637" y="2633" width="52" height="26" rx="6"/><text x="3663" y="2646">Vision</text></g>
<g id="yeux"><rect class="r" x="3639" y="2812" width="47" height="27" rx="6"/><text x="3663" y="2826">Yeux</text></g>
<g id="lumineuse"><rect class="r" x="3593" y="2919" width="140" height="31" rx="6"/><text x="3663" y="2935">L'énergie lumineuse</text></g>
<g id="electrique"><rect class="r" x="3565" y="3012" width="196" height="33" rx="6"/><text x="3663" y="3029">Énergie électrique (nerveuse)</text></g>
<g id="retine"><rect class="r" x="3629" y="3145" width="69" height="29" rx="6"/><text x="3663" y="3160">La rétine</text></g>
<g id="cones"><rect class="r" x="3133" y="3316" width="56" height="29" rx="6"/><text x="3161" y="3331">Cônes</text></g>
<g id="batonnets"><rect class="r" x="3465" y="3316" width="78" height="29" rx="6"/><text x="3504" y="3331">Bâtonnets</text></g>
<g id="vision-centrale"><rect class="r" x="3106" y="3438" width="108" height="27" rx="6"/><text x="3160" y="3451" font-size="11.5">Vision centrale</text></g>
<g id="vision-peri"><rect class="r" x="3435" y="3437" width="139" height="30" rx="6"/><text x="3504" y="3452" font-size="11.5">Vision préiphérique</text></g>
<g id="exocentree"><rect class="r" x="3090" y="3517" width="140" height="30" rx="6"/><text x="3160" y="3532" font-size="11.5">Fonction exocentrée</text></g>
<g id="egocentree"><rect class="r" x="3384" y="3517" width="242" height="32" rx="6"/><text x="3505" y="3533" font-size="11">Fonction égocentrée (proprioceptive)</text></g>
<g id="exo-tache"><rect class="d" x="3058" y="3612" width="205" height="78" rx="6"/><text font-size="11"><tspan x="3160" y="3629">À l'individu de garder une</tspan><tspan x="3160" y="3644">image nette de la slackline</tspan><tspan x="3160" y="3658">lorsqu'il a besoin de la repérer</tspan><tspan x="3160" y="3673">pour bien se positionner</tspan></text></g>
<g id="ego-tache"><rect class="d" x="3383" y="3617" width="245" height="77" rx="6"/><text font-size="11"><tspan x="3505" y="3633">À l'individu de se renseigner sur les</tspan><tspan x="3505" y="3648">déplacements de son environnement</tspan><tspan x="3505" y="3662">sur sa rétine et de se repérer dans</tspan><tspan x="3505" y="3677">l'espace lors du salto arrière</tspan></text></g>
<g id="nerf"><rect class="r" x="3866" y="3416" width="111" height="28" rx="6"/><text x="3922" y="3430" font-size="11.5">Le nerf optique</text></g>
<g id="chiasma"><rect class="r" x="3855" y="3538" width="133" height="27" rx="6"/><text x="3922" y="3552" font-size="11.5">Le chiasma optique</text></g>
<g id="tractus"><rect class="r" x="3859" y="3649" width="126" height="28" rx="6"/><text x="3922" y="3663" font-size="11.5">Le tractus optique</text></g>
<g id="thalamus-v"><ellipse class="v" cx="3800" cy="3924" rx="38" ry="20"/><text x="3800" y="3924" font-size="11.5">Thalamus</text></g>
<g id="mesencephale"><ellipse class="v" cx="4282" cy="3941" rx="52" ry="23"/><text x="4282" y="3941" font-size="11.5">Mésencéphale</text></g>
<g id="colliculus"><ellipse class="v" cx="4282" cy="4043" rx="72" ry="27"/><text x="4282" y="4043" font-size="11.5">Colliculus supérieurs</text></g>
<g id="aire-visuelle"><ellipse class="v" cx="3980" cy="4019" rx="73" ry="27"/><text x="3980" y="4019" font-size="11">Aire visuelle primaire</text></g>
<g id="voie-dorsale"><ellipse class="v" cx="3801" cy="4083" rx="46" ry="20"/><text x="3801" y="4083" font-size="11.5">Voie dorsale</text></g>
<g id="voie-ventrale"><ellipse class="v" cx="3624" cy="4083" rx="48" ry="21"/><text x="3624" y="4083" font-size="11.5">Voie ventrale</text></g>
<g id="perception"><rect class="v" x="3568" y="3971" width="102" height="43" rx="6"/><text font-size="11.5"><tspan x="3619" y="3985">La perception</tspan><tspan x="3619" y="4000">consciente</tspan></text></g>
<g id="quoi"><rect class="v" x="3456" y="4246" width="74" height="29" rx="6"/><text x="3493" y="4261" font-size="11">«Le quoi»</text></g>
<g id="vision-c2"><ellipse class="v" cx="3623" cy="4260" rx="53" ry="23"/><text x="3623" y="4260" font-size="11">Vision centrale</text></g>
<g id="ou"><rect class="v" x="3700" y="4246" width="65" height="29" rx="6"/><text x="3733" y="4261" font-size="11">«Le où»</text></g>
<g id="vision-cp"><ellipse class="v" cx="3842" cy="4260" rx="57" ry="33"/><text font-size="11"><tspan x="3842" y="4252">Vision centrale</tspan><tspan x="3842" y="4268">et périphérique</tspan></text></g>
<g id="aires-secondaires"><ellipse class="v" cx="3979" cy="4184" rx="89" ry="29"/><text x="3979" y="4184" font-size="11">Aires visuelles secondaires</text></g>
<g id="centre-visuel"><rect class="v" x="4188" y="4147" width="187" height="30" rx="6"/><text x="4281" y="4162" font-size="11">Le centre visuel des réflexes</text></g>
<g id="lemniscale"><ellipse class="r" cx="2774" cy="3820" rx="93" ry="29"/><text x="2774" y="3820" font-size="11.5">Voie ascendante lemniscale</text></g>
<g id="responsable"><rect class="r" x="2550" y="3927" width="144" height="73" rx="6"/><text font-size="11.5"><tspan x="2622" y="3942">Responsable de</tspan><tspan x="2622" y="3957">l'acheminement</tspan><tspan x="2622" y="3971">des influx sensoriels</tspan><tspan x="2622" y="3986">précis et localisables</tspan></text></g>
<g id="le-thalamus"><ellipse class="v" cx="2914" cy="3969" rx="46" ry="21"/><text x="2914" y="3969" font-size="11.5">Le thalamus</text></g>
<g id="centre-relai"><rect class="v" x="2674" y="4071" width="244" height="103" rx="6"/><text font-size="11"><tspan x="2796" y="4087">Le centre-relai reçevant tous</tspan><tspan x="2796" y="4101">les influx nerveux sensoriels.</tspan><tspan x="2796" y="4116">Centre de tri qui envoie</tspan><tspan x="2796" y="4130">l'information aux régions appropriées.</tspan><tspan x="2796" y="4145">Distinction imprécise de la</tspan><tspan x="2796" y="4159">sensation (agréable ou désagréable).</tspan></text></g>
<g id="lobe-parietal"><ellipse class="v" cx="3032" cy="4142" rx="48" ry="24"/><text x="3032" y="4142" font-size="11">Lobe pariétal</text></g>
<g id="lobe-resp"><rect class="v" x="2775" y="4258" width="304" height="72" rx="6"/><text font-size="11"><tspan x="2927" y="4272">Le lobe responsable des sensations</tspan><tspan x="2927" y="4287">somesthésiques. Responsable de l'intégration</tspan><tspan x="2927" y="4301">multisensorielle, des mouvements guidés</tspan><tspan x="2927" y="4316">visuellement et des mouvements intentionnels.</tspan></text></g>
<g id="asp"><ellipse class="v" cx="3197" cy="4298" rx="102" ry="33"/><text x="3197" y="4298" font-size="11">L'aire somesthésique primaire</text></g>
<g id="aire-recoit"><rect class="v" x="2949" y="4431" width="220" height="60" rx="6"/><text font-size="11"><tspan x="3059" y="4447">L'aire qui reçoit les informations</tspan><tspan x="3059" y="4461">somatiques et localise le</tspan><tspan x="3059" y="4476">stimulus (discrimination spatiale).</tspan></text></g>
<g id="asa"><ellipse class="v" cx="3353" cy="4461" rx="106" ry="35"/><text x="3353" y="4461" font-size="11">L'aire somesthésique associative</text></g>
<g id="reception"><rect class="v" x="2949" y="4613" width="218" height="46" rx="6"/><text font-size="11"><tspan x="3058" y="4629">La réception des informations se</tspan><tspan x="3058" y="4643">fait dans l'hémisphère opposée</tspan></text></g>
<g id="attribue"><rect class="v" x="3217" y="4606" width="272" height="60" rx="6"/><text font-size="11"><tspan x="3353" y="4622">L'aire qui attribue une signification à</tspan><tspan x="3353" y="4636">l'information reçue en la comparant à des</tspan><tspan x="3353" y="4651">souvenirs d'expérience sensorielle</tspan></text></g>
<g id="interocepteurs"><rect class="r" x="2116" y="2893" width="106" height="31" rx="6"/><text x="2169" y="2909" font-size="11.5">Intérocepteurs</text></g>
<g id="exterocepteurs"><rect class="r" x="2449" y="2893" width="108" height="31" rx="6"/><text x="2503" y="2909" font-size="11.5">Extérocepteurs</text></g>
<g id="pression-viceres"><rect class="r" x="1964" y="3074" width="168" height="45" rx="6"/><text font-size="11.5"><tspan x="2048" y="3090">La pression du</tspan><tspan x="2048" y="3105">déplacement des vicères</tspan></text></g>
<g id="pression-sang"><rect class="r" x="2218" y="3074" width="126" height="45" rx="6"/><text font-size="11.5"><tspan x="2281" y="3090">La différence de</tspan><tspan x="2281" y="3105">pression sanguine</tspan></text></g>
<g id="pression-pieds"><text class="p" font-size="11.5"><tspan x="2502" y="3089">La pression de la</tspan><tspan x="2502" y="3104">slackline sur les pieds</tspan></text></g>
<g id="conn-position"><rect class="d" x="2076" y="3515" width="185" height="58" rx="6"/><text font-size="11.5"><tspan x="2169" y="3530">Connaissance de la position</tspan><tspan x="2169" y="3544">du corps dans la</tspan><tspan x="2169" y="3559">réalisation du salto</tspan></text></g>
<g id="conn-moment"><rect class="d" x="2308" y="3522" width="176" height="46" rx="6"/><text font-size="11.5"><tspan x="2396" y="3538">Connaissance du moment</tspan><tspan x="2396" y="3552">de contact à l'aterissage</tspan></text></g>
<g id="conn-pieds"><rect class="d" x="2530" y="3515" width="170" height="58" rx="6"/><text font-size="11.5"><tspan x="2615" y="3530">Connaissance du</tspan><tspan x="2615" y="3544">positionnement</tspan><tspan x="2615" y="3559">des pieds sur la slackline</tspan></text></g>
<g id="recepteur-art"><ellipse class="r" cx="1525" cy="2863" rx="45" ry="28"/><text font-size="11"><tspan x="1525" y="2856">Récepteur</tspan><tspan x="1525" y="2871">articulaire</tspan></text></g>
<g id="recepteurs-musc"><ellipse class="r" cx="611" cy="2976" rx="82" ry="30"/><text x="611" y="2976" font-size="11">Récepteurs musculaires</text></g>
<g id="muscle"><ellipse class="r" cx="397" cy="3112" rx="40" ry="19"/><text x="397" y="3112" font-size="11">Le muscle</text></g>
<g id="tendons"><ellipse class="r" cx="779" cy="3110" rx="46" ry="20"/><text x="779" y="3110" font-size="11">Les tendons</text></g>
<g id="fuseaux"><ellipse class="r" cx="397" cy="3276" rx="66" ry="33"/><text font-size="11"><tspan x="397" y="3269">Fuseaux</tspan><tspan x="397" y="3284">neuro-musculaire</tspan></text></g>
<g id="golgi-tend"><ellipse class="r" cx="779" cy="3291" rx="52" ry="36"/><text font-size="11"><tspan x="779" y="3277">Organes</tspan><tspan x="779" y="3291">tendineux</tspan><tspan x="779" y="3305">de Golgi</tspan></text></g>
<g id="fibres"><ellipse class="r" cx="397" cy="3450" rx="77" ry="29"/><text x="397" y="3450" font-size="11">Fibres annulo-spiralée</text></g>
<g id="tension-muscle"><rect class="r" x="666" y="3433" width="226" height="29" rx="6"/><text x="779" y="3448" font-size="11">Détecter la tension dans le muscle</text></g>
<g id="inhiber"><rect class="b" x="666" y="3624" width="226" height="58" rx="6"/><text font-size="11"><tspan x="779" y="3639">Inhiber la contraction musculaire</tspan><tspan x="779" y="3653">lorsque la force déployée pourrait</tspan><tspan x="779" y="3667">entraîner des lésions musculaires</tspan></text></g>
<g id="rec-dyn"><rect class="r" x="198" y="3628" width="166" height="30" rx="6"/><text x="281" y="3643" font-size="11">Récepteurs dynamiques</text></g>
<g id="rec-stat"><rect class="r" x="422" y="3629" width="147" height="30" rx="6"/><text x="496" y="3644" font-size="11">Récepteurs statiques</text></g>
<g id="var-dyn"><rect class="r" x="204" y="3801" width="152" height="42" rx="6"/><text font-size="11"><tspan x="280" y="3815">Variations d'étirement</tspan><tspan x="280" y="3829">du muscle</tspan></text></g>
<g id="var-stat"><rect class="r" x="421" y="3788" width="150" height="43" rx="6"/><text font-size="11"><tspan x="496" y="3802">Variations d'étirement</tspan><tspan x="496" y="3816">du muscle</tspan></text></g>
<g id="det-changements"><rect class="r" x="193" y="3963" width="176" height="46" rx="6"/><text font-size="11"><tspan x="281" y="3979">Détecter les changements</tspan><tspan x="281" y="3993">de longueur du muscle</tspan></text></g>
<g id="det-longueur"><rect class="r" x="418" y="3967" width="156" height="42" rx="6"/><text font-size="11"><tspan x="496" y="3981">Détecter la longueur</tspan><tspan x="496" y="3995">instantanée du muscle</tspan></text></g>
<g id="tissus"><ellipse class="r" cx="1524" cy="3076" rx="64" ry="25"/><text x="1524" y="3076" font-size="11">Tissus articulaires</text></g>
<g id="ruffini"><ellipse class="r" cx="1286" cy="3183" rx="74" ry="28"/><text x="1286" y="3183" font-size="11">Récepteurs de Ruffini</text></g>
<g id="pacini"><ellipse class="r" cx="1525" cy="3183" rx="72" ry="28"/><text x="1525" y="3183" font-size="11">Récepteurs de Pacini</text></g>
<g id="golgi-art"><ellipse class="r" cx="1756" cy="3183" rx="71" ry="28"/><text x="1756" y="3183" font-size="11">Récepteurs de Golgi</text></g>
<g id="capter"><rect class="r" x="1190" y="3276" width="191" height="44" rx="6"/><text font-size="11"><tspan x="1286" y="3291">Capter la <tspan text-decoration="underline">tension</tspan> musculaire</tspan><tspan x="1286" y="3305">appliquée à l'articulation</tspan></text></g>
<g id="petits-mvt"><rect class="r" x="1458" y="3268" width="134" height="59" rx="6"/><text font-size="11"><tspan x="1525" y="3283">Détecter les petits</tspan><tspan x="1525" y="3298">mouvements</tspan><tspan x="1525" y="3312">et les <tspan text-decoration="underline">accélérations</tspan></tspan></text></g>
<g id="determiner"><rect class="r" x="1671" y="3268" width="168" height="59" rx="6"/><text font-size="11"><tspan x="1755" y="3283">Déterminer la <tspan text-decoration="underline">direction</tspan></tspan><tspan x="1755" y="3298">du mouvement et la</tspan><tspan x="1755" y="3312"><tspan text-decoration="underline">position</tspan> de l'articulation</tspan></text></g>
<g id="vitesse"><rect class="r" x="1203" y="3400" width="166" height="40" rx="6"/><text font-size="11"><tspan x="1286" y="3413">Vitesse angulaire et la</tspan><tspan x="1286" y="3427">direction du mouvement</tspan></text></g>
<g id="nature"><rect class="r" x="1462" y="3399" width="126" height="42" rx="6"/><text font-size="11"><tspan x="1525" y="3413">Détecter la nature</tspan><tspan x="1525" y="3427">du mouvement</tspan></text></g>
<g id="snc-vert"><ellipse class="v" cx="1525" cy="3636" rx="85" ry="30"/><text x="1525" y="3636" font-size="11">Système nerveux central</text></g>
<g id="info-globales"><text class="p" x="1525" y="3784" font-size="11">Informations globales sur les mouvements d'une articulation et des muscles</text></g>
<g id="apprentissages"><rect class="w" x="5017" y="1710" width="108" height="29" rx="6"/><text x="5071" y="1725">Apprentissages</text></g>
<g id="sequence"><rect class="k" x="5468" y="1440" width="232" height="33" rx="6"/><text x="5584" y="1456" font-size="13.5">Apprentissage d'une séquence</text></g>
<g id="ordre"><rect class="k" x="5838" y="1444" width="261" height="30" rx="6"/><text x="5969" y="1459" font-size="13.5">L'ordre temporel des mouvements</text></g>
<g id="assembler"><rect class="d" x="6443" y="1433" width="289" height="63" rx="6"/><text font-size="12.5"><tspan x="6588" y="1447">La capacité à assmbler les différents</tspan><tspan x="6588" y="1464">mouvements qui permette d'exécuter</tspan><tspan x="6588" y="1480">le salto de manière ordonnée</tspan></text></g>
<g id="asm"><rect class="k" x="6191" y="1709" width="237" height="31" rx="6"/><text x="6309" y="1725" font-size="13.5">Apprentissages sensori-moteur</text></g>
<g id="predictions"><rect class="k" x="6230" y="1867" width="182" height="29" rx="6"/><text x="6321" y="1881" font-size="13">Prédictions sensorielles</text></g>
<g id="detection"><rect class="k" x="6232" y="1963" width="188" height="29" rx="6"/><text x="6326" y="1977" font-size="13">La détection des erreurs</text></g>
<g id="anticipation"><rect class="k" x="6841" y="1968" width="110" height="32" rx="6"/><text x="6896" y="1984" font-size="13.5">L'anticipation</text></g>
<g id="err-perf"><rect class="k" x="6104" y="2182" width="193" height="31" rx="6"/><text x="6201" y="2198" font-size="13">Erreurs de performances</text></g>
<g id="err-sens"><rect class="k" x="6350" y="2182" width="156" height="31" rx="6"/><text x="6428" y="2198" font-size="13">Erreurs sensorielles</text></g>
<g id="echec"><rect class="k" x="6105" y="2309" width="197" height="49" rx="6"/><text font-size="12.5"><tspan x="6203" y="2325">L'échec dans l'atteinte</tspan><tspan x="6203" y="2342">de l'objectif de prédiction</tspan></text></g>
<g id="variabilite"><rect class="k" x="6675" y="2146" width="154" height="46" rx="6"/><text font-size="12.5"><tspan x="6752" y="2161">Moins de variabilité</tspan><tspan x="6752" y="2177">de mouvement</tspan></text></g>
<g id="diminution"><rect class="k" x="7062" y="2158" width="180" height="49" rx="6"/><text font-size="12.5"><tspan x="7152" y="2174">Une diminution de son</tspan><tspan x="7152" y="2191">temps de réaction</tspan></text></g>
<g id="depart"><rect class="k" x="6586" y="2283" width="91" height="49" rx="6"/><text font-size="12.5"><tspan x="6632" y="2300">Du départ</tspan><tspan x="6632" y="2316">(équilibre)</tspan></text></g>
<g id="saut"><rect class="k" x="6720" y="2289" width="72" height="29" rx="6"/><text x="6756" y="2304" font-size="12.5">Du saut</text></g>
<g id="atterissage"><rect class="k" x="6819" y="2283" width="126" height="30" rx="6"/><text x="6882" y="2298" font-size="12.5">De l'atterissage</text></g>
<g id="fluctuations"><rect class="od" x="6592" y="2483" width="343" height="100" rx="6"/><text font-size="12.5"><tspan x="6763" y="2499">La capacité à réduire les fluctuations dans les</tspan><tspan x="6763" y="2516">mouvements pour effectuer le salto sans que</tspan><tspan x="6763" y="2533">l'expert tombe ou mette le pied à côté</tspan><tspan x="6763" y="2550">de la slackline à l'atterissage à cause</tspan><tspan x="6763" y="2567">d'un mouvement imprécis.</tspan></text></g>
<g id="desequilibre"><rect class="d" x="7016" y="2315" width="287" height="83" rx="6"/><text font-size="12.5"><tspan x="7160" y="2330">Lors d'un déséquilibre, l'expert a</tspan><tspan x="7160" y="2347">déjà anticipé le mouvement,</tspan><tspan x="7160" y="2364">donc il a déjà envoyé une commande</tspan><tspan x="7160" y="2381">motrice pour rétablir le déséquilibre</tspan></text></g>
<g id="phases"><rect class="w" x="5696" y="1892" width="213" height="31" rx="6"/><text x="5803" y="1908" font-size="13.5">Des phases d'apprentissage</text></g>
<g id="autonome"><rect class="w" x="5723" y="2015" width="156" height="31" rx="6"/><text x="5801" y="2031" font-size="13.5">La phase autonome</text></g>
<g id="possibilite"><rect class="d" x="5665" y="2189" width="281" height="67" rx="6"/><text font-size="13"><tspan x="5805" y="2206">La possibilité de se tenir en équilibre</tspan><tspan x="5805" y="2222">sur la slackline sans monopoliser</tspan><tspan x="5805" y="2239">de ressources importantes</tspan></text></g>
<g id="memoire"><rect class="w" x="4718" y="2080" width="89" height="29" rx="6"/><text x="4763" y="2095" font-size="11.5">La mémoire</text></g>
<g id="implicite-p"><rect class="w" x="5179" y="2105" width="133" height="29" rx="6"/><text x="5245" y="2119" font-size="11.5">Processus implicite</text></g>
<g id="explicite-p"><rect class="w" x="5450" y="2142" width="132" height="29" rx="6"/><text x="5516" y="2157" font-size="11.5">Processus explicite</text></g>
<g id="erreurs-sm"><rect class="o" x="4935" y="2213" width="189" height="26" rx="6"/><text x="5029" y="2226" font-size="11.5">Les erreurs sensori-motrices</text></g>
<g id="automatique"><rect class="w" x="5197" y="2246" width="201" height="46" rx="6"/><text font-size="11.5"><tspan x="5297" y="2262">Un processus d'apprentissage</tspan><tspan x="5297" y="2276">automatique et rigide</tspan></text></g>
<g id="rapide"><rect class="c" x="5449" y="2270" width="202" height="45" rx="6"/><text font-size="11.5"><tspan x="5550" y="2285">Un processus d'apprentissage</tspan><tspan x="5550" y="2299">rapide et contrôlable</tspan></text></g>
<g id="mem-sens"><rect class="w" x="4295" y="2307" width="136" height="29" rx="6"/><text x="4363" y="2322" font-size="11.5">Mémoire sensorielle</text></g>
<g id="mem-court"><rect class="w" x="4551" y="2305" width="156" height="29" rx="6"/><text x="4629" y="2320" font-size="11.5">Mémoire à court terme</text></g>
<g id="mem-long"><rect class="w" x="4836" y="2299" width="150" height="30" rx="6"/><text x="4911" y="2314" font-size="11.5">Mémoire à long terme</text></g>
<g id="infos-sens"><rect class="o" x="4225" y="2436" width="134" height="44" rx="6"/><text font-size="11.5"><tspan x="4292" y="2451">Les informations</tspan><tspan x="4292" y="2466">provenant des sens</tspan></text></g>
<g id="sortie"><rect class="o" x="4502" y="2481" width="118" height="26" rx="6"/><text x="4561" y="2494" font-size="11.5">La sortie motrice</text></g>
<g id="sens-lien"><rect class="o" x="4196" y="2578" width="64" height="25" rx="6"/><text x="4228" y="2590" font-size="11.5">Sens...</text></g>
<g id="versant-moteur"><rect class="o" x="4341" y="2607" width="112" height="26" rx="6"/><text x="4397" y="2620" font-size="11.5">Versant moteur</text></g>
<g id="retention"><rect class="w" x="5203" y="2437" width="156" height="46" rx="6"/><text font-size="11.5"><tspan x="5281" y="2453">La rétention de</tspan><tspan x="5281" y="2467">l'apprentissage moteur</tspan></text></g>
<g id="cortex-moteur"><ellipse class="w" cx="5291" cy="2599" rx="88" ry="30"/><text x="5291" y="2599" font-size="11.5">Le cortex moteur primaire</text></g>
<g id="implicite-m"><rect class="w" x="4752" y="2483" width="71" height="29" rx="6"/><text x="4787" y="2497" font-size="11.5">Implicite</text></g>
<g id="explicite-m"><rect class="w" x="4986" y="2474" width="70" height="30" rx="6"/><text x="5021" y="2489" font-size="11.5">Explicite</text></g>
<g id="non-declarative"><rect class="w" x="4767" y="2649" width="125" height="57" rx="6"/><text font-size="11.5"><tspan x="4829" y="2663">La mémoire non</tspan><tspan x="4829" y="2677">déclarative, la</tspan><tspan x="4829" y="2691">mémoire motrice.</tspan></text></g>
<g id="declarative"><rect class="w" x="4905" y="2578" width="138" height="59" rx="6"/><text font-size="11.5"><tspan x="4974" y="2592">La mémoire</tspan><tspan x="4974" y="2607">déclarative, la</tspan><tspan x="4974" y="2621">mémoire explicative</tspan></text></g>
<g id="semantique"><rect class="w" x="5073" y="2595" width="90" height="29" rx="6"/><text x="5118" y="2609" font-size="11.5">Sémantique</text></g>
<g id="explication"><rect class="w" x="5034" y="2706" width="173" height="56" rx="6"/><text font-size="11.5"><tspan x="5120" y="2720">L'explication et les</tspan><tspan x="5120" y="2734">connaissances théoriques</tspan><tspan x="5120" y="2749">d'un mouvement</tspan></text></g>
<g id="genoux"><rect class="m" x="4994" y="2833" width="256" height="57" rx="6"/><text font-size="11.5"><tspan x="5122" y="2847">Le fait de savoir et d'être capable</tspan><tspan x="5122" y="2861">d'expliquer qu'il faut replier les genoux</tspan><tspan x="5122" y="2876">sur la poitrine pour effectuer le salto.</tspan></text></g>
<g id="modeles"><rect class="w" x="4656" y="2802" width="119" height="28" rx="6"/><text x="4716" y="2816" font-size="11.5">Modèles internes</text></g>
<g id="predictif"><rect class="w" x="4334" y="3003" width="129" height="32" rx="6"/><text x="4398" y="3019" font-size="13">Modèle prédictif</text></g>
<g id="inverse"><rect class="w" x="4543" y="3006" width="140" height="32" rx="6"/><text x="4613" y="3022" font-size="14.5">Modèle inverse</text></g>
<g id="resultat"><rect class="k" x="4320" y="3127" width="158" height="51" rx="6"/><text font-size="14.5"><tspan x="4399" y="3142">Le résultat de la</tspan><tspan x="4399" y="3162">comande motrice</tspan></text></g>
<g id="probleme"><rect class="w" x="4526" y="3114" width="184" height="36" rx="6"/><text x="4618" y="3132" font-size="14.5">Au problème inverse</text></g>
<g id="transformation"><rect class="w" x="4545" y="3218" width="147" height="50" rx="6"/><text font-size="14.5"><tspan x="4618" y="3233">Transformation</tspan><tspan x="4618" y="3253">sensori-motrice</tspan></text></g>
<g id="equilibre"><text class="p" x="5070" y="3482">Équilibre</text></g>
<g id="vestibulaire"><text class="p" x="5069" y="3645">Système vestibulaire</text></g>
<g id="infos-mvt"><text class="p" font-size="11.5"><tspan x="4776" y="3788">Les informations concernant les</tspan><tspan x="4776" y="3802">mouvements ou les</tspan><tspan x="4776" y="3817">changement de position du corps</tspan></text></g>
<g id="tronc"><text class="p" x="4776" y="3974" font-size="11.5">Tronc cérébral</text></g>
<g id="infos-vis"><rect class="r" x="4553" y="4094" width="149" height="46" rx="6"/><text font-size="11.5"><tspan x="4628" y="4110">informations visuelles</tspan><tspan x="4628" y="4124">et proprioceptives</tspan></text></g>
<g id="reflexes-eq"><text class="p" x="4921" y="4110" font-size="11.5">Réflexes de l'équilibre</text></g>
<g id="vo"><rect class="b" x="4676" y="4247" width="198" height="59" rx="6"/><text font-size="11"><tspan x="4775" y="4262" text-decoration="underline">Réflexe vestibulo-oculaire :</tspan><tspan x="4775" y="4277">permet de garder une image</tspan><tspan x="4775" y="4291">nette pendant un mouvement.</tspan></text></g>
<g id="vs"><rect class="b" x="4920" y="4247" width="248" height="59" rx="6"/><text font-size="11"><tspan x="5044" y="4262" text-decoration="underline">Réflexe vestibulo-spinal :</tspan><tspan x="5044" y="4277">permet le redressement de la vertical</tspan><tspan x="5044" y="4291">du corps en situation de déséquilibre</tspan></text></g>
<g id="se-tenir"><rect class="d" x="4970" y="4403" width="150" height="42" rx="6"/><text font-size="11"><tspan x="5045" y="4417">Se tenir sur la</tspan><tspan x="5045" y="4431">slackline sans tomber</tspan></text></g>
<g id="vestibule"><text class="p" x="5214" y="3799" font-size="11.5">vestibule</text></g>
<g id="eq-statique"><text class="p" x="5214" y="3919" font-size="11.5">équilibre statique</text></g>
<g id="canaux"><text class="p" x="5704" y="3803" font-size="11">canaux semi-circulaire</text></g>
<g id="lateral"><text class="p" x="5319" y="4029" font-size="11">Latéral</text></g>
<g id="anterieur"><text class="p" x="5528" y="4033" font-size="11">Antérieur</text></g>
<g id="posterieur"><text class="p" x="5728" y="4031" font-size="11">Postérieur</text></g>
<g id="eq-dynamique"><text class="p" x="5922" y="4034" font-size="11">équilibre dynamique</text></g>
<g id="lacet"><text class="p" font-size="11"><tspan x="5319" y="4213">Rotation autour de l'axe</tspan><tspan x="5319" y="4226">vertical du corps (Lacet)</tspan></text></g>
<g id="roulis"><text class="p" font-size="11"><tspan x="5528" y="4213">Rotation autour de l'axe</tspan><tspan x="5528" y="4226">saggitale du corps (Roulis)</tspan></text></g>
<g id="tangage"><text class="p" font-size="11"><tspan x="5728" y="4209">Rotation autour l'axe</tspan><tspan x="5728" y="4222">transversale (Tangage)</tspan></text></g>
</g>
</g>
</svg>
